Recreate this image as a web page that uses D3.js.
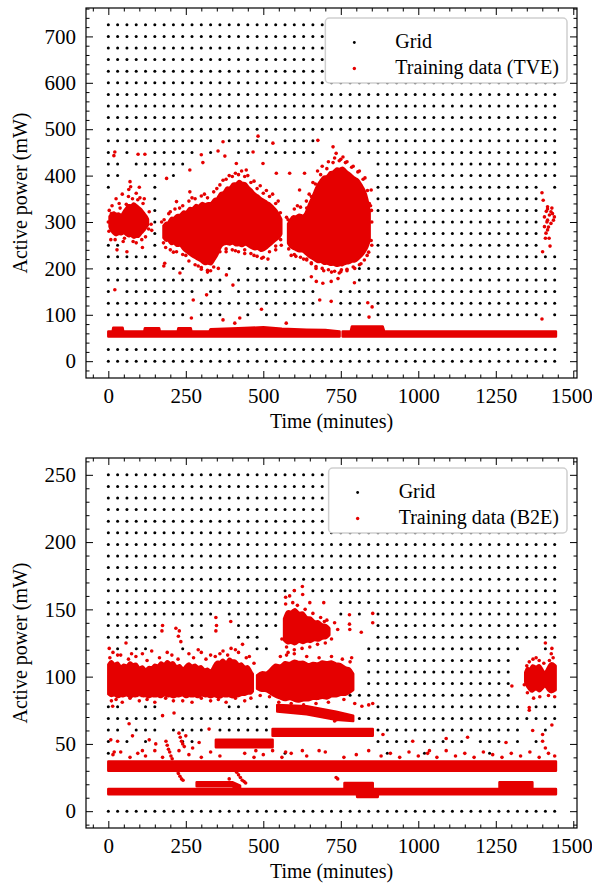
<!DOCTYPE html>
<html>
<head>
<meta charset="utf-8">
<script src="https://cdn.jsdelivr.net/npm/d3@7"></script>
<style>
  body { margin: 0; background: #fff; }
  svg { display: block; }
</style>
</head>
<body>
<svg id="fig" width="592" height="886"></svg>
<script>
// ---- shared time axis ----
const gridMinutes = [0, 30, 60, 90, 120, 150, 180, 210, 240, 270, 300, 330, 360, 390, 420, 450, 480, 510,
  540, 570, 600, 630, 660, 690, 720, 750, 780, 810, 840, 870, 900, 930, 960, 990, 1020, 1050, 1080, 1110,
  1140, 1170, 1200, 1230, 1260, 1290, 1320, 1350, 1380, 1410, 1440];
const timeTicks = [0, 250, 500, 750, 1000, 1250, 1500];

// ---- TVE panel ----
const tveGridPower = [0, 25, 50, 75, 100, 125, 150, 175, 200, 225, 250, 275, 300, 325, 350, 375, 400, 425,
  450, 475, 500, 525, 550, 575, 600, 625, 650, 675, 700, 725];
const tvePowerTicks = [0, 100, 200, 300, 400, 500, 600, 700];
// missing grid columns per row, top row (725) first: [fromCol, toCol]
const tveGridGaps = [
  [], [], [], [], [], [], [], [], [], [],
  [[12, 12], [18, 18], [23, 25]],
  [[1, 1], [3, 4], [10, 10], [12, 13], [16, 16], [23, 26]],
  [[2, 2], [9, 28]],
  [[2, 3], [6, 6], [8, 28]],
  [[1, 4], [6, 28], [47, 47]],
  [[0, 4], [6, 28], [47, 48]],
  [[0, 4], [6, 28], [47, 48]],
  [[0, 4], [6, 29], [47, 48]],
  [[0, 4], [6, 29], [47, 48]],
  [[2, 4], [6, 28], [47, 48]],
  [[6, 28]],
  [[6, 6], [9, 12], [14, 14], [21, 26]],
  [[13, 13], [22, 26]],
  [[1, 1], [10, 10], [13, 13], [23, 24]],
  [[9, 9], [23, 24], [28, 28]],
  [[9, 9], [13, 14], [16, 16], [19, 19], [28, 28], [47, 47]],
  [[0, 48]],
  [[0, 48]],
  [], []
];
// dense parts: [minute, low mW, high mW]
const tveBaseA = [[0, 53, 64], [14, 53, 64], [16, 53, 72], [46, 53, 72], [48, 53, 64], [116, 53, 64], [118, 53, 71],
  [164, 53, 71], [166, 53, 64], [224, 53, 64], [226, 53, 71], [266, 53, 71], [268, 53, 64], [326, 53, 64],
  [330, 53, 69], [420, 53, 71], [500, 53, 73], [560, 53, 70], [640, 53, 68], [700, 53, 67], [746, 53, 64]];
const tveBaseB = [[756, 53, 64], [782, 53, 64], [786, 53, 75], [885, 53, 75], [890, 53, 64], [1444, 53, 64]];
const tveClusterA = [[4, 290, 312], [10, 280, 318], [18, 274, 322], [26, 270, 316], [34, 276, 320], [42, 272, 312],
  [50, 278, 324], [58, 272, 330], [66, 268, 338], [74, 272, 334], [82, 264, 342], [90, 270, 336], [98, 266, 332],
  [106, 276, 328], [114, 280, 320], [122, 288, 314], [128, 294, 306]];
const tveClusterB = [[178, 266, 292], [186, 258, 300], [194, 262, 296], [202, 250, 312], [212, 256, 306],
  [222, 246, 318], [232, 252, 312], [242, 240, 326], [252, 236, 318], [262, 230, 334], [272, 226, 326],
  [282, 222, 340], [292, 218, 332], [302, 214, 344], [312, 208, 336], [322, 212, 342], [332, 206, 338],
  [342, 220, 352], [352, 228, 348], [362, 248, 366], [372, 252, 360], [382, 254, 378], [392, 250, 370],
  [402, 256, 386], [412, 248, 380], [422, 252, 392], [432, 246, 382], [442, 254, 386], [452, 248, 374],
  [462, 244, 370], [472, 240, 360], [482, 244, 358], [492, 236, 350], [502, 240, 348], [512, 244, 342],
  [522, 250, 340], [532, 256, 332], [542, 262, 326], [552, 266, 314], [558, 274, 306]];
const tveClusterC = [[580, 254, 296], [588, 246, 306], [596, 242, 314], [606, 240, 310], [616, 236, 318],
  [626, 238, 312], [636, 232, 316], [646, 226, 336], [656, 222, 350], [666, 218, 366], [676, 212, 382],
  [686, 216, 390], [696, 208, 400], [706, 212, 396], [716, 206, 410], [726, 210, 406], [736, 204, 418],
  [746, 208, 412], [756, 206, 420], [766, 212, 410], [776, 210, 406], [786, 216, 400], [796, 214, 394],
  [806, 220, 392], [816, 226, 380], [826, 234, 370], [836, 246, 350], [843, 260, 322]];
// loose points: [minute, mW]
const tvePoints = [
  [21, 451], [18, 443], [70, 387], [72, 376], [96, 446], [118, 446], [66, 370], [90, 362], [116, 350], [21, 154],
  [3, 325], [8, 262], [12, 335], [35, 340], [48, 258], [65, 355], [90, 255], [102, 352], [120, 268], [132, 322],
  [138, 295], [28, 240], [60, 236], [110, 245], [140, 282],
  [0, 300], [2, 280], [10, 318], [22, 262], [38, 330], [52, 265], [58, 338], [78, 350], [80, 258], [95, 348],
  [108, 262], [112, 340], [125, 300], [130, 285], [10, 290], [25, 350], [45, 360], [100, 375],
  [188, 394], [263, 412], [305, 428], [300, 445], [354, 453], [376, 442], [370, 473], [413, 426], [445, 412],
  [467, 451], [483, 485], [499, 426], [531, 470], [542, 405], [585, 405], [220, 344], [263, 365], [231, 190],
  [317, 143], [381, 186], [402, 164], [274, 132], [268, 93], [370, 89], [408, 82], [424, 93], [494, 112],
  [574, 82], [682, 132], [719, 129], [182, 211], [179, 205],
  [172, 300], [178, 255], [195, 318], [210, 235], [230, 330], [250, 228], [270, 352], [290, 205], [310, 360],
  [330, 195], [350, 372], [370, 390], [390, 400], [410, 405], [430, 410], [450, 400], [470, 388], [490, 378],
  [510, 368], [530, 360], [548, 345], [558, 250], [540, 240], [515, 220], [495, 222], [470, 228], [440, 232],
  [410, 238], [380, 236], [355, 200], [320, 192], [300, 198],
  [180, 305], [200, 322], [215, 328], [240, 335], [260, 345], [280, 350], [300, 356], [320, 352], [340, 365],
  [360, 380], [380, 392], [400, 398], [420, 402], [440, 398], [460, 385], [480, 372], [500, 362], [520, 355],
  [540, 340], [555, 320], [185, 245], [200, 240], [220, 236], [240, 230], [260, 216], [280, 208], [300, 202],
  [320, 196], [340, 203], [360, 236], [380, 242], [400, 240], [420, 236], [440, 240], [460, 232], [480, 226],
  [500, 224], [520, 236], [540, 248], [556, 262],
  [676, 476], [725, 462], [735, 448], [757, 440], [848, 369], [849, 325], [655, 182], [671, 172], [692, 168],
  [719, 172], [741, 178], [794, 169], [837, 126], [851, 117], [841, 95], [752, 197], [633, 405], [617, 369],
  [639, 345],
  [575, 310], [590, 228], [610, 335], [630, 220], [648, 360], [660, 385], [675, 410], [690, 420], [710, 430],
  [730, 438], [750, 435], [770, 430], [790, 420], [810, 410], [828, 395], [842, 340], [850, 300], [848, 260],
  [835, 228], [815, 210], [795, 200], [770, 195], [745, 190], [720, 192], [695, 195], [670, 200], [655, 212],
  [640, 218], [605, 226],
  [580, 305], [600, 328], [620, 332], [640, 330], [655, 355], [668, 382], [685, 402], [705, 415], [725, 428],
  [745, 432], [765, 428], [785, 418], [805, 408], [822, 392], [836, 368], [846, 335], [582, 242], [600, 230],
  [620, 224], [640, 220], [655, 210], [670, 204], [690, 200], [710, 197], [730, 194], [750, 193], [770, 198],
  [790, 203], [810, 208], [826, 218], [840, 235], [850, 250],
  [1399, 363], [1403, 347], [1417, 333], [1413, 323], [1423, 315], [1433, 318], [1407, 311], [1439, 311],
  [1417, 304], [1428, 297], [1407, 290], [1417, 283], [1412, 276], [1422, 265], [1410, 265], [1425, 248],
  [1401, 236], [1399, 91], [1417, 328], [1431, 330], [1436, 304], [1420, 289], [1428, 322], [1415, 300]
];

// ---- B2E panel ----
const b2eGridPower = [0, 8.62, 17.24, 25.86, 34.48, 43.1, 51.72, 60.34, 68.97, 77.59, 86.21, 94.83, 103.45,
  112.07, 120.69, 129.31, 137.93, 146.55, 155.17, 163.79, 172.41, 181.03, 189.66, 198.28, 206.9, 215.52,
  224.14, 232.76, 241.38, 250];
const b2ePowerTicks = [0, 50, 100, 150, 200, 250];
const b2eGridGaps = [
  [], [], [], [], [], [], [], [], [], [],
  [[21, 21]],
  [[19, 24]],
  [[12, 12], [19, 24], [26, 26], [28, 28]],
  [[6, 8], [11, 13], [19, 28]],
  [[6, 8], [11, 13], [17, 28]],
  [[0, 0], [2, 2], [5, 7], [9, 15], [18, 27], [45, 46], [48, 48]],
  [[0, 27], [44, 48]],
  [[0, 27], [44, 48]],
  [[0, 27], [44, 48]],
  [[0, 25], [44, 48]],
  [[2, 3], [6, 12], [15, 15], [18, 28], [45, 45]],
  [[6, 7], [18, 24]],
  [[2, 2], [6, 6], [11, 11], [18, 28], [45, 46], [48, 48]],
  [[1, 1], [3, 3], [5, 7], [10, 28], [33, 33], [39, 39], [43, 43], [45, 45], [47, 48]],
  [[1, 18], [20, 29], [31, 33], [35, 40], [42, 48]],
  [[0, 48]], [[0, 48]], [[0, 48]], [[0, 48]],
  []
];
const b2eLowBand = [[0, 12.5, 16.5], [802, 12.5, 16.5], [803, 10.5, 16.5], [869, 10.5, 16.5], [870, 12.5, 16.5],
  [1444, 12.5, 16.5]];
const b2eLedgeA = [[285, 18.5, 21.5], [400, 18.5, 21.5], [425, 16, 19]];
const b2eLedgeB = [[762, 17, 21], [853, 17, 21]];
const b2eLedgeC = [[1262, 17.5, 21.5], [1368, 17.5, 21.5]];
const b2eMidBand = [[0, 30, 37], [1444, 30, 37]];
const b2eSeg50 = [[347, 47.5, 53], [530, 47.5, 53]];
const b2eSeg58 = [[530, 56, 61], [853, 56, 61]];
const b2eSeg72 = [[545, 74, 79], [640, 72, 78], [735, 68, 74], [790, 67, 71]];
const b2eMainA = [[0, 87, 109], [10, 85, 113], [20, 87, 108], [30, 84, 112], [40, 86, 106], [50, 85, 110],
  [60, 87, 107], [70, 84, 112], [80, 86, 108], [90, 85, 111], [100, 87, 105], [110, 85, 109], [120, 86, 104],
  [130, 84, 108], [140, 86, 106], [150, 85, 110], [160, 86, 107], [170, 84, 112], [180, 87, 108], [190, 85, 113],
  [200, 86, 109], [210, 84, 112], [220, 86, 106], [230, 85, 110], [240, 87, 105], [250, 84, 108], [260, 86, 111],
  [270, 85, 107], [280, 86, 110], [290, 84, 106], [300, 87, 109], [310, 85, 104], [320, 86, 107], [330, 84, 103],
  [340, 86, 108], [350, 85, 112], [360, 84, 110], [370, 86, 114], [380, 85, 109], [390, 86, 115], [400, 84, 111],
  [410, 86, 113], [420, 85, 108], [430, 87, 111], [440, 86, 106], [450, 88, 109], [460, 87, 104], [466, 89, 102]];
const b2eMainB = [[480, 91, 101], [495, 89, 104], [510, 90, 102], [525, 87, 106], [540, 85, 110], [555, 84, 107],
  [570, 82, 112], [585, 84, 109], [600, 82, 113], [615, 81, 110], [630, 83, 112], [645, 82, 108], [660, 84, 111],
  [675, 83, 109], [690, 85, 112], [705, 83, 110], [720, 86, 112], [735, 85, 109], [750, 87, 110], [765, 86, 106],
  [778, 88, 107], [790, 90, 102]];
const b2eUpper = [[567, 127, 143], [578, 124, 150], [590, 126, 147], [602, 123, 152], [615, 127, 146],
  [628, 124, 149], [640, 127, 143], [652, 125, 145], [665, 128, 140], [678, 126, 142], [690, 129, 138],
  [702, 128, 139], [713, 131, 136]];
const b2eRight = [[1345, 96, 103], [1352, 92, 108], [1360, 90, 104], [1368, 88, 110], [1380, 92, 106],
  [1390, 88, 110], [1400, 91, 105], [1410, 94, 102], [1420, 89, 108], [1430, 88, 111], [1443, 90, 108]];
const b2ePoints = [
  [3, 121], [57, 125], [89, 115], [175, 138], [173, 134], [218, 136], [226, 130], [234, 126], [229, 134],
  [347, 144], [347, 134], [349, 138], [395, 141], [396, 121], [433, 124], [15, 118], [40, 116], [110, 117],
  [140, 119], [190, 118], [260, 117], [300, 118], [330, 116], [370, 119], [420, 118], [455, 115],
  [5, 114], [30, 116], [65, 113], [75, 117], [125, 112], [165, 114], [205, 116], [225, 113], [275, 114],
  [290, 120], [315, 113], [345, 115], [360, 117], [385, 116], [410, 120], [445, 114], [470, 110],
  [10, 82], [45, 81], [100, 82], [150, 81], [210, 82], [270, 81], [330, 82], [380, 81], [440, 82], [490, 86],
  [520, 85], [25, 83], [70, 84], [125, 83], [185, 84], [240, 82], [300, 84], [355, 83], [410, 84], [460, 84],
  [550, 81], [590, 80], [630, 79], [670, 80], [710, 81], [760, 83],
  [555, 115], [575, 116], [600, 117], [640, 115], [680, 114], [720, 115], [755, 113], [780, 111],
  [572, 159], [572, 154], [626, 167], [627, 161], [695, 155], [697, 141], [585, 160], [600, 164], [650, 155],
  [560, 128], [580, 118], [720, 128], [740, 135], [570, 140], [595, 155], [610, 153], [635, 150], [660, 147],
  [685, 144], [705, 142], [730, 140], [575, 122], [600, 120], [625, 121], [650, 122], [675, 124], [700, 125],
  [14, 78], [67, 65], [175, 71], [212, 73], [325, 61], [8, 53], [30, 52], [78, 56], [132, 53], [153, 50],
  [228, 45], [272, 47], [293, 51], [19, 44], [110, 45], [250, 56], [390, 24], [476, 45], [572, 44], [626, 45],
  [680, 45],
  [186, 52], [190, 49], [194, 46], [198, 44], [202, 41], [206, 39], [211, 36], [216, 33], [221, 30], [226, 28],
  [231, 26], [236, 24], [241, 23], [228, 58], [232, 55], [236, 52], [240, 50], [245, 48], [402, 33], [408, 31],
  [414, 29], [420, 27], [426, 25], [432, 23], [438, 22], [443, 21],
  [15, 42], [40, 44], [70, 40], [95, 43], [120, 41], [150, 45], [175, 40], [260, 42], [300, 40], [330, 44],
  [360, 41], [440, 43], [470, 40], [500, 42], [530, 45], [560, 40], [590, 43], [640, 41], [700, 44], [760, 40],
  [800, 42], [840, 45], [880, 41], [910, 43], [940, 40], [970, 44], [1000, 41], [1030, 43], [1060, 40],
  [1090, 45], [1120, 41], [1150, 43], [1180, 40], [1210, 44], [1240, 42], [1270, 40], [1300, 43], [1330, 41],
  [1360, 44], [1390, 40], [1420, 43], [1440, 41],
  [778, 146], [778, 139], [779, 135], [853, 147], [853, 140], [816, 133], [785, 114], [787, 102], [795, 80],
  [818, 78], [840, 79], [853, 80], [730, 67], [736, 68], [740, 24], [735, 25],
  [1302, 93], [1358, 75], [1358, 77], [1369, 60], [1401, 57], [1431, 64], [1431, 121], [1410, 125], [1380, 114],
  [1358, 111], [1423, 112], [1429, 117], [1342, 94], [1401, 52], [1410, 47], [1350, 108], [1370, 113],
  [1390, 112], [1405, 110], [1435, 114], [1352, 88], [1372, 84], [1392, 85], [1420, 86], [1440, 85],
  [982, 52], [1159, 55], [1283, 51], [1090, 54], [886, 57], [1036, 45]
];

const red = "#e50000";
const serif = "Liberation Serif, Times New Roman, DejaVu Serif, serif";
const svg = d3.select("#fig").attr("font-family", serif);
svg.append("rect").attr("width", 592).attr("height", 886).attr("fill", "#fff");

class PowerPanel {
  constructor({ id, top, yDomain, yTicks, yMinorStep, gridPower, gridGaps, bands, blobs, points, label }) {
    this.left = 86;
    this.right = 577;
    this.top = top;
    this.bottom = top + 370;
    this.x = d3.scaleLinear().domain([-72, 1512]).range([this.left, this.right]);
    this.y = d3.scaleLinear().domain(yDomain).range([this.bottom, this.top]);
    this.g = svg.append("g");

    this.g.append("clipPath").attr("id", id)
      .append("rect")
      .attr("x", this.left).attr("y", this.top)
      .attr("width", this.right - this.left).attr("height", this.bottom - this.top);
    this.plot = this.g.append("g").attr("clip-path", `url(#${id})`);

    this.drawGrid(gridPower, gridGaps);
    this.drawBands(bands, d3.curveLinear);
    this.drawBands(blobs, d3.curveBasis);
    this.drawPoints(points);
    this.drawAxes(yTicks, yMinorStep);
    this.drawLegend(label);
  }

  drawGrid(gridPower, gridGaps) {
    const cells = [];
    const nRows = gridPower.length;
    gridGaps.forEach((gaps, row) => {
      const power = gridPower[nRows - 1 - row];
      gridMinutes.forEach((t, col) => {
        if (gaps.some(([a, b]) => col >= a && col <= b)) return;
        cells.push([t, power]);
      });
    });
    this.plot.append("g").selectAll("circle")
      .data(cells)
      .join("circle")
      .attr("cx", d => this.x(d[0]))
      .attr("cy", d => this.y(d[1]))
      .attr("r", 1.5)
      .attr("fill", "#000");
  }

  drawBands(list, curve) {
    const area = d3.area()
      .x(d => this.x(d[0]))
      .y0(d => this.y(d[1]))
      .y1(d => this.y(d[2]))
      .curve(curve);
    this.plot.append("g").selectAll("path")
      .data(list)
      .join("path")
      .attr("d", area)
      .attr("fill", red)
      .attr("stroke", red)
      .attr("stroke-width", 2.5)
      .attr("stroke-linejoin", "round");
  }

  drawPoints(points) {
    this.plot.append("g").selectAll("circle")
      .data(points)
      .join("circle")
      .attr("cx", d => this.x(d[0]))
      .attr("cy", d => this.y(d[1]))
      .attr("r", 1.8)
      .attr("fill", red);
  }

  drawAxes(yTicks, yMinorStep) {
    const [y0, y1] = this.y.domain();
    const xMinor = d3.range(-50, 1512, 50).filter(v => !timeTicks.includes(v));
    const yMinor = d3.range(Math.ceil(y0 / yMinorStep) * yMinorStep, y1, yMinorStep)
      .filter(v => !yTicks.includes(v));
    const fmt = d3.format("d");

    const style = sel => {
      sel.select(".domain").remove();
      sel.attr("font-family", serif).attr("font-size", 21);
      sel.selectAll("line").attr("stroke", "#000").attr("stroke-width", 1);
      sel.selectAll("text").attr("fill", "#000");
    };
    const put = (axis, tx, ty) => this.g.append("g").attr("transform", `translate(${tx},${ty})`).call(axis).call(style);

    put(d3.axisBottom(this.x).tickValues(timeTicks).tickFormat(fmt).tickSizeInner(-7).tickSizeOuter(0).tickPadding(10), 0, this.bottom)
      .selectAll("text").filter(d => d === 1500).attr("dx", -2);
    put(d3.axisBottom(this.x).tickValues(xMinor).tickSizeInner(-3.5).tickSizeOuter(0).tickFormat(""), 0, this.bottom);
    put(d3.axisTop(this.x).tickValues(timeTicks).tickSizeInner(-7).tickSizeOuter(0).tickFormat(""), 0, this.top);
    put(d3.axisTop(this.x).tickValues(xMinor).tickSizeInner(-3.5).tickSizeOuter(0).tickFormat(""), 0, this.top);
    put(d3.axisLeft(this.y).tickValues(yTicks).tickFormat(fmt).tickSizeInner(-7).tickSizeOuter(0).tickPadding(10), this.left, 0);
    put(d3.axisLeft(this.y).tickValues(yMinor).tickSizeInner(-3.5).tickSizeOuter(0).tickFormat(""), this.left, 0);
    put(d3.axisRight(this.y).tickValues(yTicks).tickSizeInner(-7).tickSizeOuter(0).tickFormat(""), this.right, 0);
    put(d3.axisRight(this.y).tickValues(yMinor).tickSizeInner(-3.5).tickSizeOuter(0).tickFormat(""), this.right, 0);

    this.g.append("rect")
      .attr("x", this.left).attr("y", this.top)
      .attr("width", this.right - this.left).attr("height", this.bottom - this.top)
      .attr("fill", "none").attr("stroke", "#000").attr("stroke-width", 1.2);

    this.g.append("text")
      .attr("x", (this.left + this.right) / 2)
      .attr("y", this.bottom + 50)
      .attr("text-anchor", "middle")
      .attr("font-size", 20)
      .text("Time (minutes)");

    this.g.append("text")
      .attr("transform", `translate(27,${(this.top + this.bottom) / 2}) rotate(-90)`)
      .attr("text-anchor", "middle")
      .attr("font-size", 20)
      .text("Active power (mW)");
  }

  drawLegend(label) {
    const boxTop = this.top + 10;
    const boxRight = this.right - 10;
    const lg = this.g.append("g");
    const box = lg.append("rect");
    const rows = [
      { text: "Grid", color: "#000", r: 1.4, dy: 24.5 },
      { text: label, color: red, r: 1.7, dy: 50.5 }
    ];
    const texts = rows.map(d => lg.append("text").attr("font-size", 20).text(d.text));
    const w = d3.max(texts, t => t.node().getComputedTextLength());
    const tx = boxRight - 8 - w;
    texts.forEach((t, i) => t.attr("x", tx).attr("y", boxTop + rows[i].dy + 5.5));
    rows.forEach(d => lg.append("circle")
      .attr("cx", tx - 41).attr("cy", boxTop + d.dy)
      .attr("r", d.r).attr("fill", d.color));
    box.attr("x", tx - 70).attr("y", boxTop)
      .attr("width", boxRight - (tx - 70)).attr("height", 65)
      .attr("rx", 4)
      .attr("fill", "#fff")
      .attr("stroke", "#cfcfcf")
      .attr("stroke-width", 1.5);
  }
}

new PowerPanel({
  id: "clip-tve", top: 8, yDomain: [-36.25, 761.25], yTicks: tvePowerTicks, yMinorStep: 20,
  gridPower: tveGridPower, gridGaps: tveGridGaps,
  bands: [tveBaseA, tveBaseB],
  blobs: [tveClusterA, tveClusterB, tveClusterC],
  points: tvePoints, label: "Training data (TVE)"
});

new PowerPanel({
  id: "clip-b2e", top: 458, yDomain: [-12.5, 262.5], yTicks: b2ePowerTicks, yMinorStep: 10,
  gridPower: b2eGridPower, gridGaps: b2eGridGaps,
  bands: [b2eLowBand, b2eLedgeA, b2eLedgeB, b2eLedgeC, b2eMidBand, b2eSeg50, b2eSeg58, b2eSeg72],
  blobs: [b2eMainA, b2eMainB, b2eUpper, b2eRight],
  points: b2ePoints, label: "Training data (B2E)"
});
</script>
</body>
</html>
